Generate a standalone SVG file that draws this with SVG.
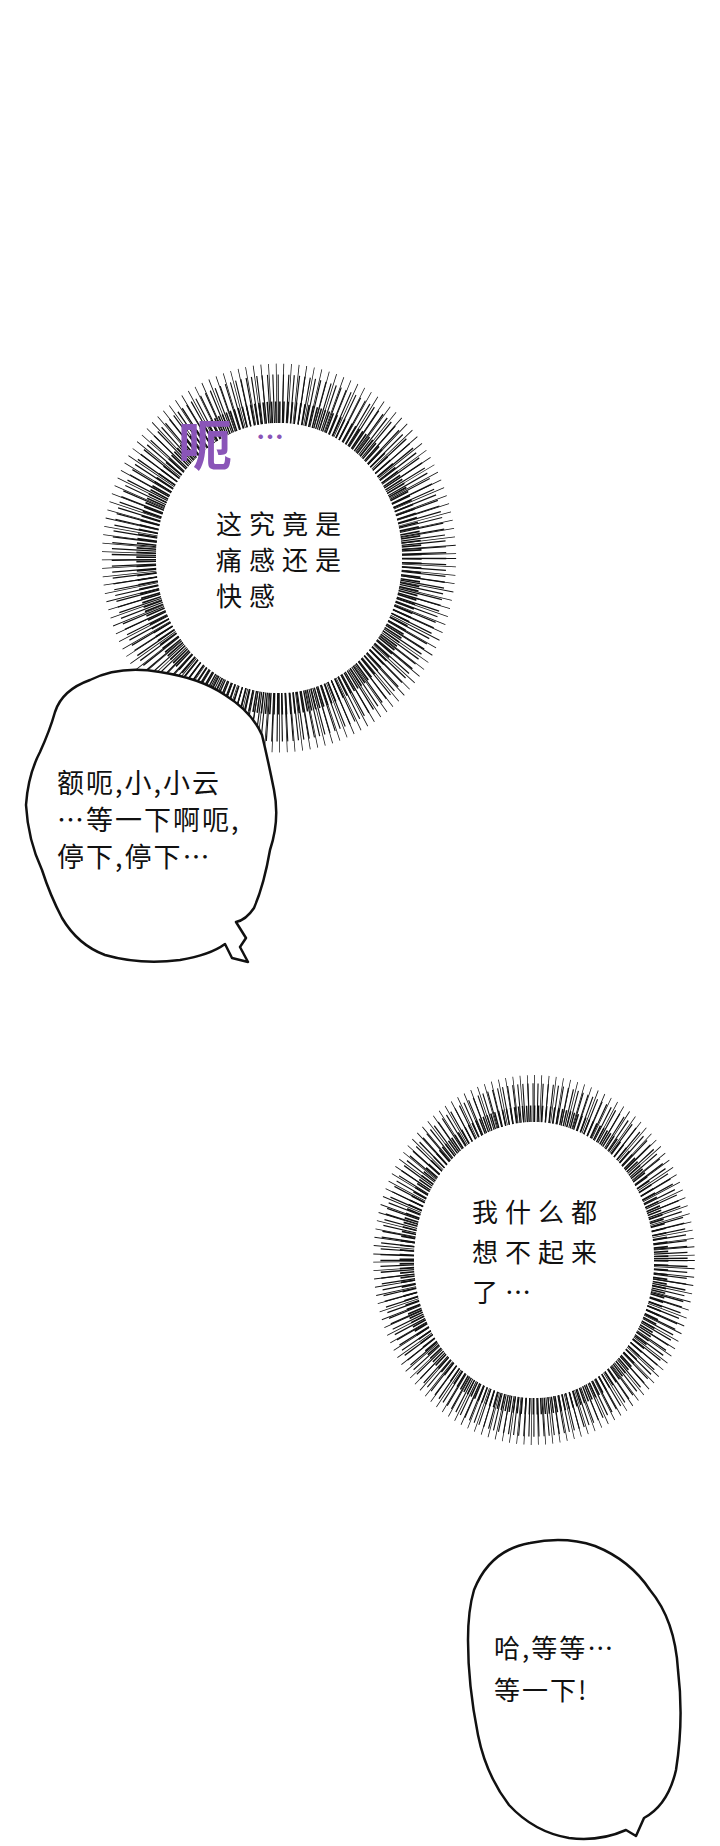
<svg xmlns="http://www.w3.org/2000/svg" width="720" height="1846" viewBox="0 0 720 1846">
<style>
.t{font-family:"Noto Sans CJK SC","Noto Sans",sans-serif;fill:#111}
.ray{fill:none;stroke:#111}
.bub{fill:#fff;stroke:#111;stroke-width:2.5;stroke-linejoin:round}
</style>
<rect width="720" height="1846" fill="#fff"/>
<g id="burst1">
<g transform="translate(279,558) scale(1.23,1.35)">
<circle class="ray" r="108" stroke-width="16" stroke-dasharray="1.2 2"/>
<circle class="ray" r="118" stroke-width="36" stroke-dasharray="0.9 2.9"/>
<circle class="ray" r="122" stroke-width="44" stroke-dasharray="0.6 4.7"/>
<circle r="100" fill="#fff"/>
</g>
<text x="178" y="466" font-family="Noto Sans CJK SC,sans-serif" font-weight="bold" font-size="54" fill="#8a55b8">呃</text>
<text x="256" y="448" font-family="Noto Sans CJK SC,sans-serif" font-weight="bold" font-size="28" fill="#8a55b8">…</text>
<text class="t" font-size="26" letter-spacing="7"><tspan x="216" y="534">这究竟是</tspan><tspan x="216" y="570">痛感还是</tspan><tspan x="216" y="606">快感</tspan></text>
</g>
<g id="bubble1">
<path class="bub" d="M55,712 Q62,690 90,680 Q120,665 160,672 Q200,678 225,695 Q252,712 262,735 Q268,760 274,790 Q280,820 270,850 Q264,885 254,908 Q246,920 236,922 L246,938 L240,947 L248,962 L232,958 L225,944 Q210,955 180,960 Q140,965 105,955 Q78,945 62,918 Q50,895 42,870 Q28,840 26,805 Q28,775 40,752 Q50,730 55,712 Z"/>
<text class="t" font-size="27" letter-spacing="2"><tspan x="57" y="793">额呃,小,小云</tspan><tspan x="57" y="830">…等一下啊呃,</tspan><tspan x="57" y="867">停下,停下…</tspan></text>
</g>
<g id="burst2">
<g transform="translate(534,1260) scale(1.2,1.38)">
<circle class="ray" r="106" stroke-width="12" stroke-dasharray="1.2 2"/>
<circle class="ray" r="114" stroke-width="28" stroke-dasharray="0.9 2.9"/>
<circle class="ray" r="117" stroke-width="34" stroke-dasharray="0.6 4.7"/>
<circle r="100" fill="#fff"/>
</g>
<text class="t" font-size="26" letter-spacing="7"><tspan x="472" y="1222">我什么都</tspan><tspan x="472" y="1262">想不起来</tspan><tspan x="472" y="1302">了…</tspan></text>
</g>
<g id="bubble2">
<path class="bub" d="M474,1590 Q490,1550 530,1543 Q565,1536 595,1546 Q630,1560 650,1590 Q675,1620 678,1670 Q684,1720 676,1770 Q668,1805 644,1818 L636,1836 L626,1830 Q599,1842 569,1838 Q534,1832 509,1805 Q486,1775 478,1735 Q468,1685 468,1640 Q468,1610 474,1590 Z"/>
<text class="t" font-size="26" letter-spacing="2"><tspan x="494" y="1658">哈,等等…</tspan><tspan x="494" y="1700">等一下!</tspan></text>
</g>
</svg>
